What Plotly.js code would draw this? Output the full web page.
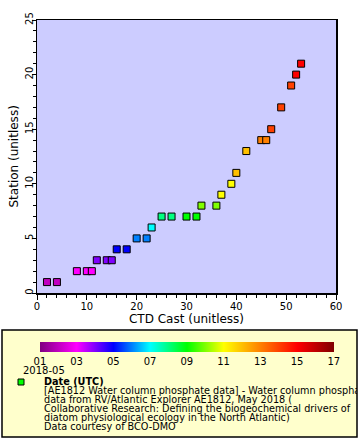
<!DOCTYPE html>
<html><head><meta charset="utf-8">
<script src="https://cdn.plot.ly/plotly-3.0.1.min.js"></script>
<style>html,body{margin:0;padding:0;background:#fff}</style>
</head><body><div id="chart" style="width:360px;height:440px"></div>
<script>
const ctdCast = [2,4,8,10,11,12,14,15,16,18,20,22,23,25,27,30,32,33,36,37,39,40,42,45,46,47,49,51,52,53];
const station = [1,1,2,2,2,3,3,3,4,4,5,5,6,7,7,7,7,8,8,9,10,11,13,14,14,15,17,19,20,21];
const dayOfMay = [2,2,3,3,3,4,4,4,5,5,6,6,7,8,8,9,9,10,10,11,11,12,12,13,13,14,14,14,15,15];
const cbTickVals = [1,3,5,7,9,11,13,15,17];
const cbTickText = ['01','03','05','07','09','11','13','15','17'];
const legendLines = [
  '[AE1812 Water column phosphate data] - Water column phosphate',
  'data from RV/Atlantic Explorer AE1812, May 2018 (',
  'Collaborative Research: Defining the biogeochemical drivers of',
  'diatom physiological ecology in the North Atlantic)',
  'Data courtesy of BCO-DMO'
];

const W=360,H=440, L=37, R=336, T=20, B=293;
const px = x => (x-L)/(R-L);
const py = y => (B-y)/(B-T);

const cscale = [
  [0,'#800080'],[0.125,'#ff00ff'],[0.25,'#0000ff'],[0.375,'#00ffff'],
  [0.5,'#00ff00'],[0.625,'#ffff00'],[0.75,'#ff8000'],[0.875,'#ff0000'],[1,'#800000']
];

const font = 'DejaVu Sans, sans-serif';
const cmin = 1, cmax = 17;

const trace = {
  x: ctdCast, y: station, type:'scatter', mode:'markers',
  marker:{symbol:'square', size:7, color: dayOfMay, cmin:cmin, cmax:cmax, colorscale:cscale,
    line:{color:'#000', width:1},
    colorbar:{orientation:'h', xref:'container', yref:'container',
      x:48/W, xanchor:'left', y:1-342/H, yanchor:'top',
      len:294, lenmode:'pixels', thickness:10, thicknessmode:'pixels',
      xpad:0, ypad:0, outlinewidth:0, ticks:'',
      tickvals:cbTickVals.map(v => Math.min(Math.max(v, cmin+0.001), cmax-0.001)), ticktext:cbTickText,
      ticklabeloverflow:'allow',
      tickfont:{family:font, size:10, color:'#000'}, ticklabelposition:'outside bottom'}
  },
  showlegend:false, hoverinfo:'x+y'
};

const annotations = [];
annotations.push({xref:'paper', yref:'paper', x:px(13), y:0.5, xanchor:'center', yanchor:'middle',
  text:'Station (unitless)', textangle:-90, showarrow:false, borderpad:0, font:{family:font, size:12, color:'#000'}});
annotations.push({xref:'paper', yref:'paper', x:px(22), y:py(371), xanchor:'left', yanchor:'middle',
  text:'2018-05', showarrow:false, borderpad:0, font:{family:font, size:10, color:'#000'}});
annotations.push({xref:'paper', yref:'paper', x:px(43), y:py(381.5), xanchor:'left', yanchor:'middle',
  text:'<b>Date (UTC)</b>', showarrow:false, borderpad:0, font:{family:font, size:9.7, color:'#000'}});
legendLines.forEach((t,i)=>{
  annotations.push({xref:'paper', yref:'paper', x:px(43), y:py(390.7+i*9), xanchor:'left', yanchor:'middle',
    text:t, showarrow:false, width:313, align:'left', borderpad:0,
    font:{family:font, size:9.7, color:'#000'}});
});

const layout = {
  width:W, height:H,
  margin:{l:L, r:W-R, t:T, b:H-B, pad:0},
  paper_bgcolor:'#fff', plot_bgcolor:'#ccccff',
  font:{family:font, size:10, color:'#000'},
  xaxis:{range:[0,60], dtick:10, ticks:'outside', ticklen:5, tickcolor:'#000',
    ticklabelstandoff:-2,
    showline:true, linecolor:'#000', linewidth:1.5, mirror:true, showgrid:false, zeroline:false,
    minor:{dtick:2, ticks:'outside', ticklen:3, tickcolor:'#000', showgrid:false},
    tickfont:{family:font, size:10}, title:{text:'CTD Cast (unitless)', font:{family:font, size:12}, standoff:4}},
  yaxis:{range:[0,25], dtick:5, ticks:'outside', ticklen:4, tickcolor:'#000', tickangle:-90,
    ticklabelstandoff:-5,
    showline:true, linecolor:'#000', linewidth:1.5, mirror:true, showgrid:false, zeroline:false,
    minor:{dtick:1, ticks:'outside', ticklen:3, tickcolor:'#000', showgrid:false},
    tickfont:{family:font, size:10}},
  shapes:[
    {type:'rect', xref:'paper', yref:'paper', x0:px(2), x1:px(357), y0:py(330), y1:py(437),
      fillcolor:'#ffffcc', line:{color:'#000', width:1.5}, layer:'below'},
    {type:'rect', xref:'paper', yref:'paper', x0:px(18), x1:px(24), y0:py(379), y1:py(385),
      fillcolor:'#00ff00', line:{color:'#000', width:1}}
  ],
  annotations: annotations
};

Plotly.newPlot('chart', [trace], layout, {displayModeBar:false, staticPlot:true});
</script></body></html>
